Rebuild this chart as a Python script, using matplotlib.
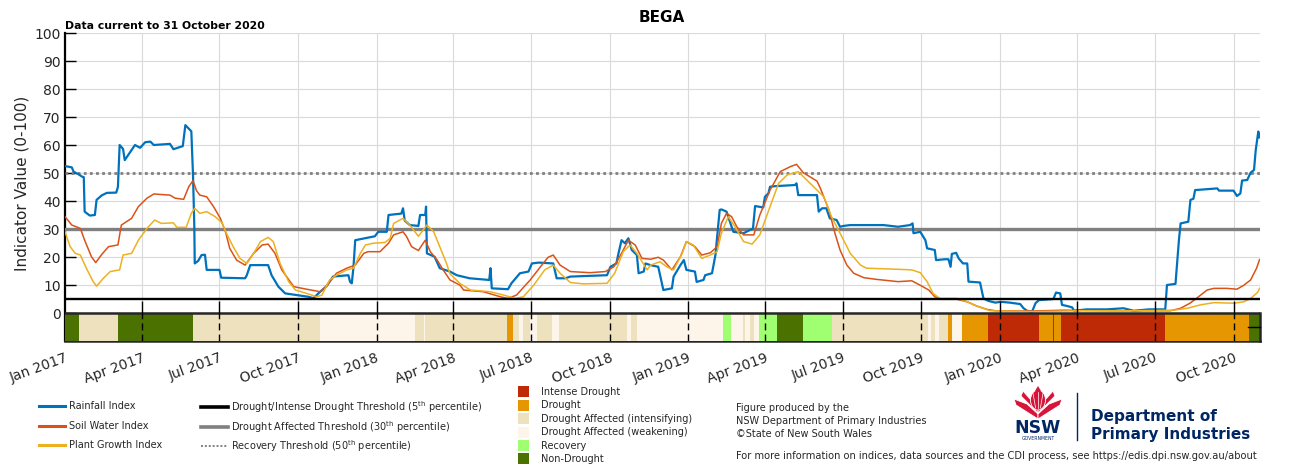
import numpy as np
import pandas as pd
import matplotlib
matplotlib.use('Agg')
import matplotlib.pyplot as plt
import matplotlib.dates as mdates
from matplotlib.patches import Rectangle, Polygon, Ellipse
from matplotlib.transforms import blended_transform_factory

START = pd.Timestamp('2017-01-01')
END = pd.Timestamp('2020-11-01')

# index values, x as days since 1 Jan 2017
rain_days = [0, 8, 10, 16, 20, 22, 23, 29, 35, 37, 43, 49, 60, 62, 64, 68, 70, 78, 82, 88, 94, 100, 104,
             123, 127, 138, 141, 148, 150, 151.5, 152, 156, 160, 164, 166, 181, 183, 211, 213, 217, 238,
             242, 250, 258, 285, 291, 299, 306, 314, 332, 334, 336, 338, 340, 363, 367, 377, 379, 394,
             396, 398, 404, 414, 416, 422, 423, 424, 433, 439, 451, 459, 474, 497, 498.5, 500, 519, 523,
             533, 543, 547, 555, 572, 576, 586, 592, 635, 639, 646, 648, 652, 656, 660, 664, 670, 672,
             678, 680, 686, 695, 701, 711, 713, 721, 725, 728, 738, 740, 748, 750, 758, 762, 767, 769,
             775, 781, 783, 795, 806, 808.5, 818, 820, 824, 826, 832, 855, 857, 859, 881, 883, 887, 892,
             896, 904, 908, 912, 920, 959, 976, 990, 993, 994, 1002, 1008, 1010, 1019, 1020.5, 1031,
             1035, 1037.5, 1039, 1044, 1047, 1052, 1057, 1058.5, 1072, 1076, 1082, 1090, 1096, 1107,
             1119, 1123, 1127, 1133, 1137, 1141, 1150, 1158, 1161, 1166, 1168, 1174, 1180, 1182, 1197,
             1221, 1240, 1252, 1270, 1289, 1291, 1301, 1305, 1307, 1316, 1318.5, 1322, 1324, 1350,
             1352, 1369, 1373, 1377, 1379, 1385, 1389, 1393, 1395, 1398, 1399.5]
rain_vals = [52.5, 52, 50.5, 49.5, 48.7, 48.5, 36.2, 34.8, 35, 40.4, 42, 42.9, 43, 45, 60, 58.6, 54.6,
             58.2, 60, 59, 61, 61.2, 60, 60.4, 58.5, 59.6, 67.1, 64.9, 49, 30.8, 17.7, 18.6, 20.7, 20.8,
             15.4, 15.4, 12.6, 12.4, 13.5, 17.1, 17.1, 13.5, 9.4, 7, 5.8, 5.3, 7.6, 9.4, 13, 13.5, 11.1,
             10.6, 16.5, 26, 27.4, 29, 29, 35, 35.5, 37.4, 33, 31.4, 31.1, 35, 35, 38, 21.3, 20.1, 16,
             14.8, 13.5, 12.4, 11.8, 16, 8.8, 8.5, 10.6, 14.2, 14.8, 17.7, 18, 17.7, 12.4, 12.4, 13,
             13.5, 16.5, 17.7, 20.7, 26, 24.9, 26.7, 22.5, 20.7, 14.2, 14.8, 17.7, 17.1, 16.5, 8.2, 8.8,
             13, 17.1, 18.9, 15.4, 14.8, 11.1, 11.8, 13.5, 14.2, 20.7, 36.8, 37, 36.2, 30.8, 29, 28.5,
             30.2, 38.2, 37.7, 41.5, 42.7, 45.1, 45.3, 45.7, 46.3, 42.1, 42.1, 36.2, 37.4, 37.4, 33.8,
             33.2, 30.8, 31.1, 31.4, 31.4, 30.8, 31.4, 32, 28.5, 29, 26, 23.1, 22.5, 18.9, 19.2, 19.2,
             16.5, 21.1, 21.5, 19.5, 17.7, 17.7, 11.2, 10.9, 5.2, 4.3, 3.7, 4, 3.7, 3.2, 1.7, 0.8, 0.5,
             3.5, 4.6, 4.8, 5, 7.3, 7, 2.9, 2.5, 2, 0.8, 1.3, 1.3, 1.7, 0.8, 1.3, 1.3, 10, 10.4, 26, 32,
             32.6, 40.4, 40.8, 43.9, 44.5, 43.7, 43.7, 41.8, 42.7, 47.3, 47.5, 50.1, 51.1, 58.2, 64.8,
             62.7]

soil_days = [0, 8, 18, 23, 31, 36, 43, 51, 62, 66, 78, 86, 96, 104, 123, 129, 139, 145, 150, 154, 158,
             166, 174, 182, 188, 193, 201, 211, 221, 231, 238, 246, 254, 268, 283, 299, 307, 318, 330,
             340, 350, 355, 369, 379, 385, 396, 400, 406, 414, 422, 428, 436, 443, 451, 463, 467, 490,
             510, 519, 529, 545, 557, 566, 572, 580, 592, 615, 633, 643, 652, 660, 668, 676, 686, 695,
             701, 711, 721, 728, 738, 746, 756, 764, 769, 775, 781, 787, 795, 807, 814, 826, 838, 850,
             857, 865, 881, 885, 895, 902, 908, 916, 924, 936, 951, 976, 992, 1002, 1012, 1019, 1027,
             1045, 1057, 1068, 1080, 1090, 1131, 1170, 1229, 1295, 1307, 1318, 1328, 1338, 1346, 1361,
             1373, 1381, 1389, 1396, 1399.5]
soil_vals = [34.4, 31.4, 30.2, 26, 20.1, 18, 20.9, 23.7, 24.3, 31.4, 33.8, 38, 41, 42.5, 42.1, 41, 40.6,
             45.1, 47.3, 43.7, 42.1, 41.5, 38, 33.8, 29, 23.1, 18.9, 17.1, 21.3, 24.3, 24.6, 21.3, 15.4,
             9.4, 8.5, 7.6, 9.9, 14.2, 16, 17.1, 21.3, 21.9, 21.9, 24.9, 27.9, 29, 27.4, 23.7, 22.3, 26,
             21.9, 18.9, 15.4, 11.8, 9.9, 8.2, 7.6, 5.8, 5.2, 6.4, 11.8, 16.5, 19.9, 20.7, 17.1, 14.8,
             14.4, 14.8, 16.5, 21.3, 26, 24.3, 19.5, 19.2, 19.9, 18.9, 15.4, 20.1, 25.5, 23.7, 20.7,
             21.5, 23.7, 32, 35.6, 34.4, 30.8, 27.9, 27.9, 35, 43.9, 50.5, 52.3, 53.1, 50.1, 47.1, 44.5,
             36.8, 28.5, 22.5, 17.1, 14.2, 12.6, 12, 11.2, 11.5, 9.9, 8.2, 5.8, 4.9, 4.9, 4, 2.5, 1.3,
             0.8, 0.7, 1, 0.8, 0.8, 1.7, 3.5, 5.8, 8.2, 8.8, 8.8, 8.5, 9.9, 11.8, 16, 19.1]

plant_days = [0, 6, 12, 18, 25, 33, 37, 45, 53, 64, 68, 78, 86, 96, 105, 113, 127, 131, 142, 148, 152,
              158, 166, 176, 184, 189, 197, 205, 213, 221, 229, 238, 244, 252, 262, 270, 283, 295, 301,
              310, 318, 330, 338, 346, 352, 361, 375, 381, 385, 396, 404, 414, 424, 432, 439, 447, 451,
              463, 475, 498, 514, 527, 537, 549, 562, 572, 580, 592, 607, 635, 644, 654, 662, 670, 682,
              686, 697, 705, 713, 723, 728, 736, 746, 756, 764, 769, 777, 785, 795, 805, 814, 826, 836,
              846, 859, 873, 889, 898, 908, 920, 932, 939, 977, 992, 1002, 1010, 1017, 1025, 1045, 1057,
              1068, 1084, 1135, 1190, 1252, 1299, 1315, 1330, 1346, 1369, 1381, 1389, 1397, 1399.5]
plant_vals = [29, 23.7, 21.3, 20.7, 16, 11.2, 9.6, 12.4, 14.8, 15.4, 20.7, 21.3, 26, 30.2, 33.2, 32,
              32.2, 30.6, 30.6, 35.6, 37.4, 35.6, 36.2, 34.4, 32.2, 28.5, 23.7, 19.5, 17.7, 21.3, 25.5,
              27, 25.5, 17.7, 11.2, 8.2, 7, 5.8, 6.4, 11.8, 13.5, 15.4, 16, 21.3, 24.3, 24.9, 25.2, 26.7,
              32, 33.8, 31.4, 27.4, 31.4, 29, 23.7, 17.7, 14, 10.5, 8.2, 7.6, 6.4, 5.2, 5.8, 9.9, 15.4,
              17.1, 14.2, 10.9, 10.4, 10.6, 14.2, 21.9, 24.3, 21.3, 15.4, 17.1, 18.3, 16.5, 15.4, 21.3,
              25.5, 24.3, 19.5, 20.7, 21.9, 28.5, 34.4, 30.8, 25.5, 24.6, 27.9, 38, 46.3, 49.3, 50.5,
              46.3, 41.5, 34.4, 28.5, 21.3, 17.1, 16, 15.6, 15.4, 14.4, 11.2, 7, 5.2, 5.2, 4, 2.5, 0.8,
              0.5, 0.8, 0.8, 1, 1.7, 2.9, 3.7, 3.5, 4, 5.2, 7.3, 8.8]

# drought category strip: start date of each period and its category
strip_starts = ['2017-01-01', '2017-01-17', '2017-03-04', '2017-05-31', '2017-10-27', '2018-02-15',
                '2018-02-26', '2018-02-27', '2018-06-03', '2018-06-10', '2018-06-17', '2018-06-22',
                '2018-06-30', '2018-07-08', '2018-07-26', '2018-08-03', '2018-10-21', '2018-10-26',
                '2018-11-02', '2019-02-11', '2019-02-20', '2019-03-06', '2019-03-09', '2019-03-14',
                '2019-03-19', '2019-03-25', '2019-04-15', '2019-05-16', '2019-06-19', '2019-10-09',
                '2019-10-13', '2019-10-17', '2019-10-22', '2019-11-01', '2019-11-06', '2019-11-18',
                '2019-12-18', '2020-02-16', '2020-03-03', '2020-03-05', '2020-03-13', '2020-07-13',
                '2020-10-19']
strip_cats = ['ND', 'DAI', 'ND', 'DAI', 'DAW', 'DAI', 'DAW', 'DAI', 'D', 'DAI', 'DAW', 'DAI', 'DAW',
              'DAI', 'DAW', 'DAI', 'DAW', 'DAI', 'DAW', 'R', 'DAW', 'DAI', 'DAW', 'DAI', 'DAW', 'R',
              'ND', 'R', 'DAI', 'DAW', 'DAI', 'DAW', 'DAI', 'D', 'DAW', 'D', 'ID', 'D', 'ID', 'D', 'ID',
              'D', 'ND']

cat_keys = ['ID', 'D', 'DAI', 'DAW', 'R', 'ND']
cat_labels = ['Intense Drought', 'Drought', 'Drought Affected (intensifying)',
              'Drought Affected (weakening)', 'Recovery', 'Non-Drought']
cat_colors = {'ID': '#BE2A05', 'D': '#E69600', 'DAI': '#EEE1BD', 'DAW': '#FDF5EA',
              'R': '#A0FF70', 'ND': '#4B7200'}

thresholds = [5, 30, 50]

BLUE, ORANGE, YELLOW = '#0072BD', '#D95319', '#EDB120'
TXT = '#262626'


def to_dates(days):
    return START + pd.to_timedelta(np.asarray(days, dtype=float), unit='D')


fig = plt.figure(figsize=(13, 4.69), dpi=100)
W, H = 1300, 469
ax = fig.add_axes([65 / W, 1 - 341 / H, 1195 / W, 308 / H])

ax.set_xlim(START, END)
ax.set_ylim(-10, 100)

# grid
ax.grid(True, color='#dadada', lw=0.8)
ax.set_axisbelow(True)

# index lines
ax.plot(to_dates(rain_days), rain_vals, color=BLUE, lw=1.6, zorder=4)
ax.plot(to_dates(soil_days), soil_vals, color=ORANGE, lw=1.1, zorder=4)
ax.plot(to_dates(plant_days), plant_vals, color=YELLOW, lw=1.1, zorder=4)

# thresholds
ax.axhline(thresholds[0], color='black', lw=1.7, zorder=5)
ax.axhline(thresholds[1], color='#808080', lw=2.4, zorder=3)
ax.axhline(thresholds[2], color='#808080', lw=2.0, ls=(0, (1, 1.2)), zorder=3)

# category strip
starts = pd.to_datetime(strip_starts)
ends = list(starts[1:]) + [END]
for s, e, c in zip(starts, ends, strip_cats):
    x0 = mdates.date2num(s)
    ax.broken_barh([(x0, mdates.date2num(e) - x0)], (-10, 10), facecolors=cat_colors[c],
                   edgecolor='none', zorder=3)
ax.axhline(0, color=TXT, lw=1.8, zorder=6)
ax.plot([END, END], [-10, 0], color=TXT, lw=1.8, zorder=6, clip_on=False)

# quarter ticks
qticks = pd.date_range('2017-01-01', '2020-10-01', freq='QS')
ax.set_xticks(qticks)
ax.set_xticklabels([d.strftime('%b %Y') for d in qticks], rotation=20, ha='right',
                   rotation_mode='anchor', fontsize=10, color=TXT)
ax.tick_params(axis='x', length=0, pad=7)
for d in qticks[1:]:
    ax.vlines(d, 0, 4.2, colors='black', lw=1.0, zorder=6)
    ax.vlines(d, -10, 0, colors='black', lw=1.0, linestyles=(0, (5, 3)), zorder=6)

ax.set_yticks(range(0, 101, 10))
ax.set_yticks([-5], minor=True)
ax.tick_params(axis='y', which='both', direction='in', length=8, width=1, color='black',
               labelsize=10, labelcolor=TXT, pad=3)
trans = blended_transform_factory(ax.transAxes, ax.transData)
ax.plot([0.99, 1.0], [-5, -5], color='black', lw=1, transform=trans, clip_on=False, zorder=7)

for side in ['top', 'right']:
    ax.spines[side].set_visible(False)
ax.spines['left'].set_linewidth(1.6)
ax.spines['left'].set_color('black')
ax.spines['bottom'].set_linewidth(1.8)
ax.spines['bottom'].set_color(TXT)

fig.text(662 / W, 1 - 18 / H, 'BEGA', ha='center', va='center', fontsize=11, fontweight='bold')
fig.text(65 / W, 1 - 26 / H, 'Data current to 31 October 2020', ha='left', va='center',
         fontsize=7.8, fontweight='bold')
fig.text(22 / W, 1 - 183 / H, 'Indicator Value (0-100)', rotation=90, ha='center', va='center',
         fontsize=11, color=TXT)

# legend / footer drawn in pixel space
lax = fig.add_axes([0, 0, 1, 1])
lax.set_xlim(0, W)
lax.set_ylim(H, 0)
lax.axis('off')
lax.patch.set_alpha(0)

lfs = 7
for y, col, lab in zip([406, 426, 445], [BLUE, ORANGE, YELLOW],
                       ['Rainfall Index', 'Soil Water Index', 'Plant Growth Index']):
    lax.plot([39, 65], [y, y], color=col, lw=2.2)
    lax.text(69, y, lab, fontsize=lfs, va='center', color=TXT)

thr_labels = ['Drought/Intense Drought Threshold (5$^{\\mathregular{th}}$ percentile)',
              'Drought Affected Threshold (30$^{\\mathregular{th}}$ percentile)',
              'Recovery Threshold (50$^{\\mathregular{th}}$ percentile)']
thr_styles = [dict(color='black', lw=2.6), dict(color='#808080', lw=2.6),
              dict(color='#808080', lw=1.4, ls=(0, (1, 1)))]
for y, st, lab in zip([407, 427, 446], thr_styles, thr_labels):
    lax.plot([201, 228], [y, y], **st)
    lax.text(231, y, lab, fontsize=lfs, va='center', color=TXT)

for i, (k, lab) in enumerate(zip(cat_keys, cat_labels)):
    y = 392 + i * 13.4
    lax.add_patch(Rectangle((518, y - 5.5), 11, 11, facecolor=cat_colors[k], edgecolor='none'))
    lax.text(541, y, lab, fontsize=lfs, va='center', color=TXT)

for y, t in zip([408, 421, 434], ['Figure produced by the', 'NSW Department of Primary Industries',
                                  '\u00a9State of New South Wales']):
    lax.text(736, y, t, fontsize=lfs, va='center', color=TXT)
lax.text(736, 456, 'For more information on indices, data sources and the CDI process, '
         'see https://edis.dpi.nsw.gov.au/about', fontsize=7.1, va='center', color=TXT)

# NSW logo
RED, NAVY = '#D7153A', '#002664'
cx = 1038
petals = [
    [(cx, 419), (cx - 22, 405), (cx - 24, 399), (cx - 11, 404), (cx, 414)],
    [(cx, 419), (cx + 22, 405), (cx + 24, 399), (cx + 11, 404), (cx, 414)],
    [(cx, 413), (cx - 17, 396), (cx - 15, 391), (cx - 7, 400), (cx, 408)],
    [(cx, 413), (cx + 17, 396), (cx + 15, 391), (cx + 7, 400), (cx, 408)],
]
for p in petals:
    lax.add_patch(Polygon(p, closed=True, facecolor=RED, edgecolor='white', lw=0.6))
lax.add_patch(Ellipse((cx, 400), 15, 20, facecolor=RED, edgecolor='white', lw=0.6))
for dx in [-4, 0, 4]:
    lax.plot([cx + dx * 0.6, cx + dx * 1.3], [408, 392], color='white', lw=0.5)
lax.add_patch(Polygon([(cx - 3, 391), (cx, 386), (cx + 3, 391)], facecolor=RED, edgecolor='none'))
lax.text(cx, 428, 'NSW', fontsize=12.5, fontweight='bold', color=NAVY, ha='center', va='center')
lax.text(cx, 439, 'GOVERNMENT', fontsize=3.3, color=NAVY, ha='center', va='center')
lax.plot([1077, 1077], [393, 440], color=NAVY, lw=1)
lax.text(1091, 417, 'Department of', fontsize=11, fontweight='bold', color=NAVY, va='center')
lax.text(1091, 434, 'Primary Industries', fontsize=11, fontweight='bold', color=NAVY, va='center')

fig.savefig('out.png', dpi=100)
